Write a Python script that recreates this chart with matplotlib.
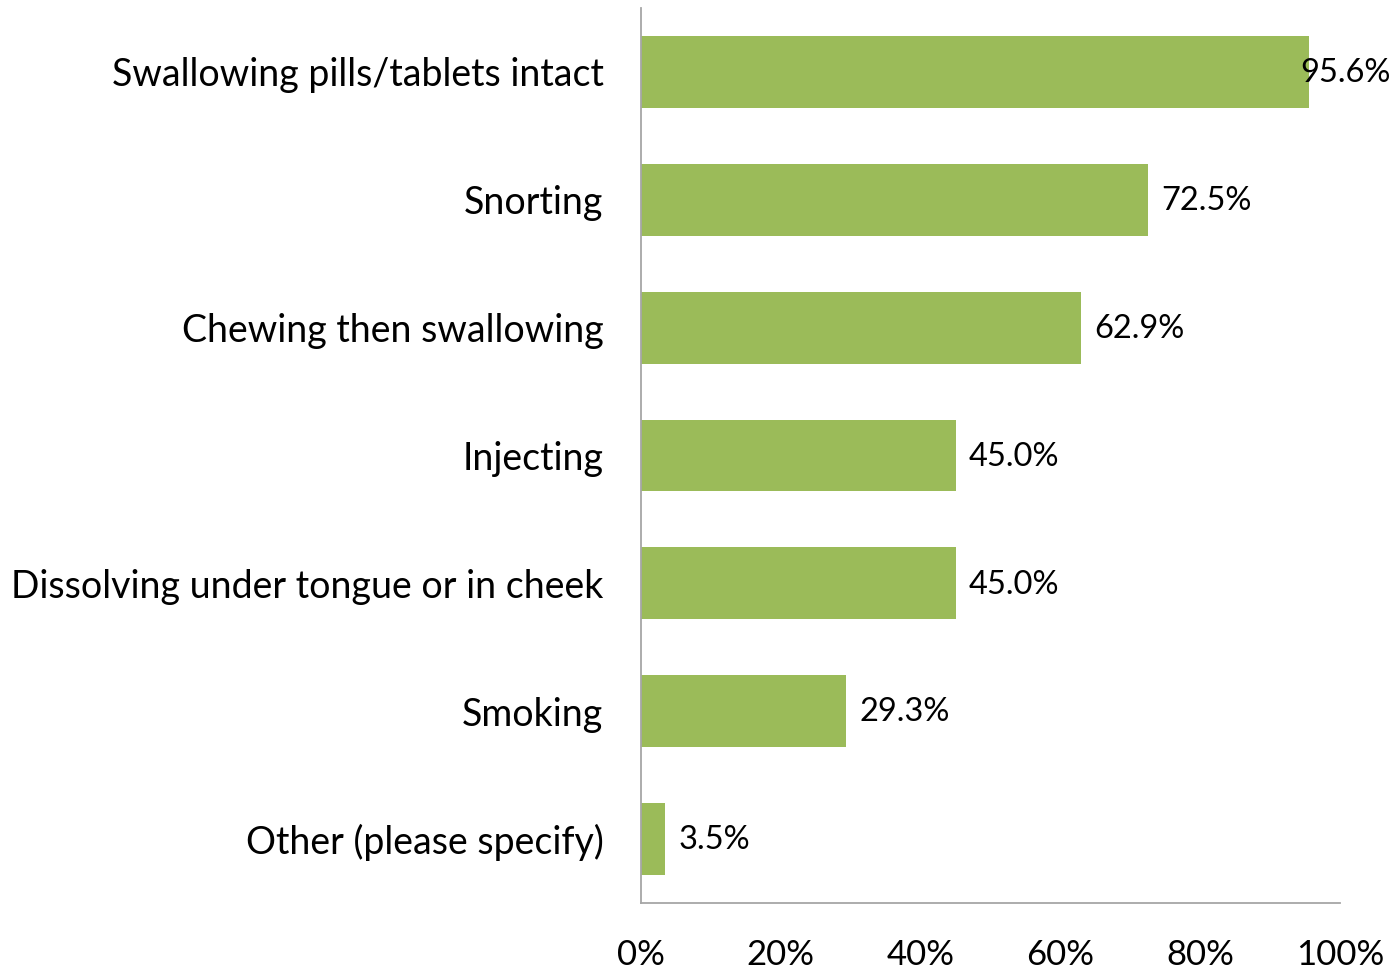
import matplotlib.pyplot as plt
from matplotlib.ticker import FuncFormatter

plt.rcParams["font.family"] = ["Lato", "DejaVu Sans"]

methods = [
    "Swallowing pills/tablets intact",
    "Snorting",
    "Chewing then swallowing",
    "Injecting",
    "Dissolving under tongue or in cheek",
    "Smoking",
    "Other (please specify)",
]
percents = [95.6, 72.5, 62.9, 45.0, 45.0, 29.3, 3.5]
x_ticks = [0, 20, 40, 60, 80, 100]

BAR_COLOR = "#9BBB59"
AXIS_COLOR = "#A6A6A6"

fig = plt.figure(figsize=(13.98, 9.71), dpi=100)
ax = fig.add_axes([641 / 1398, 1 - 903 / 971, 699 / 1398, 895 / 971])

ypos = list(range(len(methods)))
ax.barh(ypos, percents, height=0.5625, color=BAR_COLOR, zorder=2)
ax.set_ylim(len(methods) - 0.5, -0.5)
ax.set_xlim(0, 100)

# value labels sit just past the bar end; the longest one is pulled back
# so it stays inside the canvas
for y, v in zip(ypos, percents):
    ax.text(min(v + 1.9, 94.3), y + 0.01, f"{v:.1f}%", va="center", ha="left",
            fontsize=23.5, color="black", clip_on=False, zorder=3)

ax.set_yticks(ypos)
ax.set_yticklabels(methods, fontsize=27)
ax.set_xticks(x_ticks)
ax.xaxis.set_major_formatter(FuncFormatter(lambda v, _: f"{v:.0f}%"))
ax.tick_params(axis="x", length=0, pad=26, labelsize=25)
ax.tick_params(axis="y", length=0, pad=27)

for side in ("top", "right"):
    ax.spines[side].set_visible(False)
for side in ("left", "bottom"):
    ax.spines[side].set_color(AXIS_COLOR)
    ax.spines[side].set_linewidth(1.3)

fig.savefig("out.png", dpi=100)
